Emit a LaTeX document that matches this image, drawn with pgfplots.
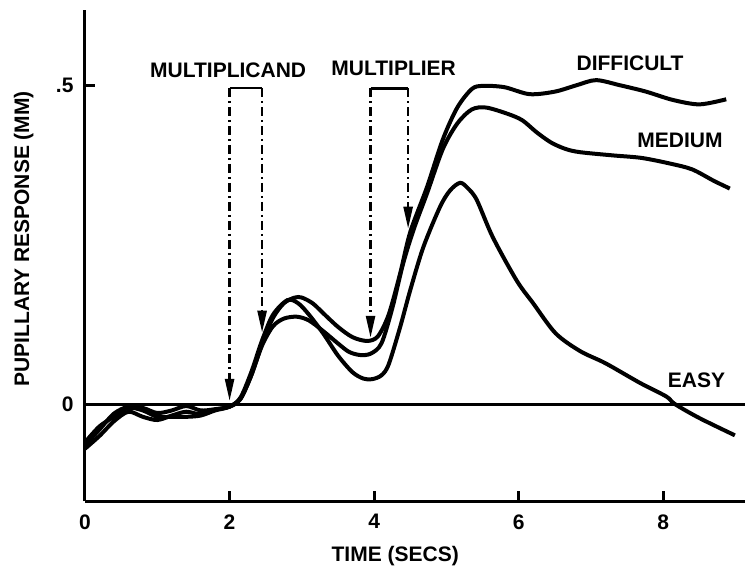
\documentclass[border=0pt]{standalone}
\usepackage{pgfplots}
\pgfplotsset{compat=1.18}
\usetikzlibrary{arrows.meta}
\usepackage{fontspec}
\setmainfont{Liberation Sans}
\newcommand{\lbl}{\bfseries\fontsize{21bp}{24bp}\selectfont}
\begin{document}
\begin{tikzpicture}
\useasboundingbox (-85bp,-75bp) rectangle (661bp,501bp);
\begin{axis}[
  at={(0,0)}, anchor=south west,
  scale only axis, width=660bp, height=491bp,
  xmin=0, xmax=9.13, ymin=-0.152, ymax=0.618,
  axis x line=bottom, axis y line=left,
  axis line style={-, line width=3bp},
  xtick={0,2,4,6,8}, xticklabels={0,2,4,6,8},
  ytick={0,0.5}, yticklabels={0,.5},
  tick align=inside, major tick length=10bp,
  tick style={line width=3bp, black},
  /pgf/number format/assume math mode=true,
  tick label style={font=\lbl},
  xticklabel style={yshift=-10bp},
  yticklabel style={xshift=-8bp},
  xlabel={TIME (SECS)}, ylabel={PUPILLARY RESPONSE (MM)},
  label style={font=\lbl},
  xlabel style={at={(axis description cs:0.47,-0.112)}, anchor=center},
  ylabel style={at={(axis description cs:-0.093,0.534)}, anchor=center},
  clip=false,
]
% zero line
\addplot[black, line width=3bp] coordinates {(0,0) (9.13,0)};
% Difficult
\addplot[black, line width=4bp, smooth, tension=0.5] coordinates {
(0,-0.065)(0.2,-0.04)(0.4,-0.015)(0.6,-0.004)(0.8,-0.006)(1.0,-0.014)(1.2,-0.01)(1.4,-0.003)(1.6,-0.01)(1.8,-0.008)(2.0,-0.004)(2.15,0.008)(2.3,0.045)(2.45,0.095)(2.6,0.135)(2.75,0.158)(2.9,0.167)(3.0,0.167)(3.15,0.158)(3.3,0.142)(3.5,0.121)(3.7,0.105)(3.9,0.099)(4.05,0.106)(4.2,0.14)(4.36,0.205)(4.5,0.27)(4.73,0.34)(4.95,0.415)(5.15,0.465)(5.35,0.494)(5.5,0.499)(5.8,0.497)(6.15,0.486)(6.5,0.49)(6.8,0.5)(7.07,0.508)(7.4,0.5)(7.76,0.49)(8.13,0.477)(8.5,0.47)(8.87,0.478)};
% Medium
\addplot[black, line width=4bp, smooth, tension=0.5] coordinates {
(0,-0.07)(0.2,-0.05)(0.4,-0.027)(0.6,-0.012)(0.8,-0.02)(1.0,-0.025)(1.2,-0.018)(1.4,-0.012)(1.6,-0.016)(1.8,-0.009)(2.0,-0.004)(2.15,0.008)(2.3,0.045)(2.45,0.092)(2.6,0.122)(2.75,0.134)(2.93,0.137)(3.1,0.131)(3.3,0.114)(3.5,0.095)(3.65,0.082)(3.8,0.077)(3.95,0.079)(4.1,0.095)(4.25,0.15)(4.4,0.22)(4.55,0.275)(4.73,0.33)(4.95,0.4)(5.15,0.44)(5.35,0.462)(5.55,0.465)(5.85,0.455)(6.05,0.445)(6.25,0.426)(6.45,0.41)(6.65,0.4)(6.85,0.395)(7.3,0.39)(7.7,0.386)(8.1,0.377)(8.4,0.368)(8.7,0.35)(8.92,0.338)};
% Easy
\addplot[black, line width=4bp, smooth, tension=0.5] coordinates {
(0,-0.06)(0.2,-0.035)(0.4,-0.02)(0.6,-0.006)(0.8,-0.01)(1.0,-0.02)(1.2,-0.02)(1.4,-0.02)(1.6,-0.018)(1.8,-0.01)(2.0,-0.004)(2.15,0.01)(2.3,0.05)(2.45,0.1)(2.6,0.14)(2.8,0.163)(2.95,0.158)(3.1,0.14)(3.3,0.11)(3.5,0.076)(3.7,0.05)(3.85,0.04)(3.97,0.039)(4.1,0.045)(4.2,0.062)(4.36,0.121)(4.5,0.179)(4.68,0.246)(4.91,0.309)(5.05,0.335)(5.19,0.347)(5.3,0.338)(5.42,0.32)(5.64,0.262)(5.97,0.194)(6.2,0.158)(6.51,0.111)(6.85,0.083)(7.2,0.064)(7.68,0.033)(8.04,0.012)(8.16,0.0)(8.5,-0.022)(8.99,-0.049)};
% brackets and arrows
\draw[line width=2.5bp] (axis cs:2.0,0.496) -- (axis cs:2.45,0.496);
\draw[line width=2.5bp] (axis cs:3.95,0.495) -- (axis cs:4.47,0.495);
\tikzset{arr/.style={line width=2.5bp, dash pattern=on 9bp off 4bp on 2bp off 4bp, -{Triangle[length=22bp,width=9bp]}}}
\draw[arr] (axis cs:2.0,0.496) -- (axis cs:2.0,0.005);
\draw[arr] (axis cs:2.45,0.496) -- (axis cs:2.45,0.112);
\draw[arr] (axis cs:3.95,0.495) -- (axis cs:3.95,0.104);
\draw[arr] (axis cs:4.47,0.495) -- (axis cs:4.47,0.275);
% labels
\node[font=\lbl] at (axis cs:1.98,0.523) {MULTIPLICAND};
\node[font=\lbl] at (axis cs:4.27,0.527) {MULTIPLIER};
\node[font=\lbl] at (axis cs:7.54,0.534) {DIFFICULT};
\node[font=\lbl] at (axis cs:8.23,0.414) {MEDIUM};
\node[font=\lbl] at (axis cs:8.46,0.038) {EASY};
\end{axis}
\end{tikzpicture}
\end{document}
